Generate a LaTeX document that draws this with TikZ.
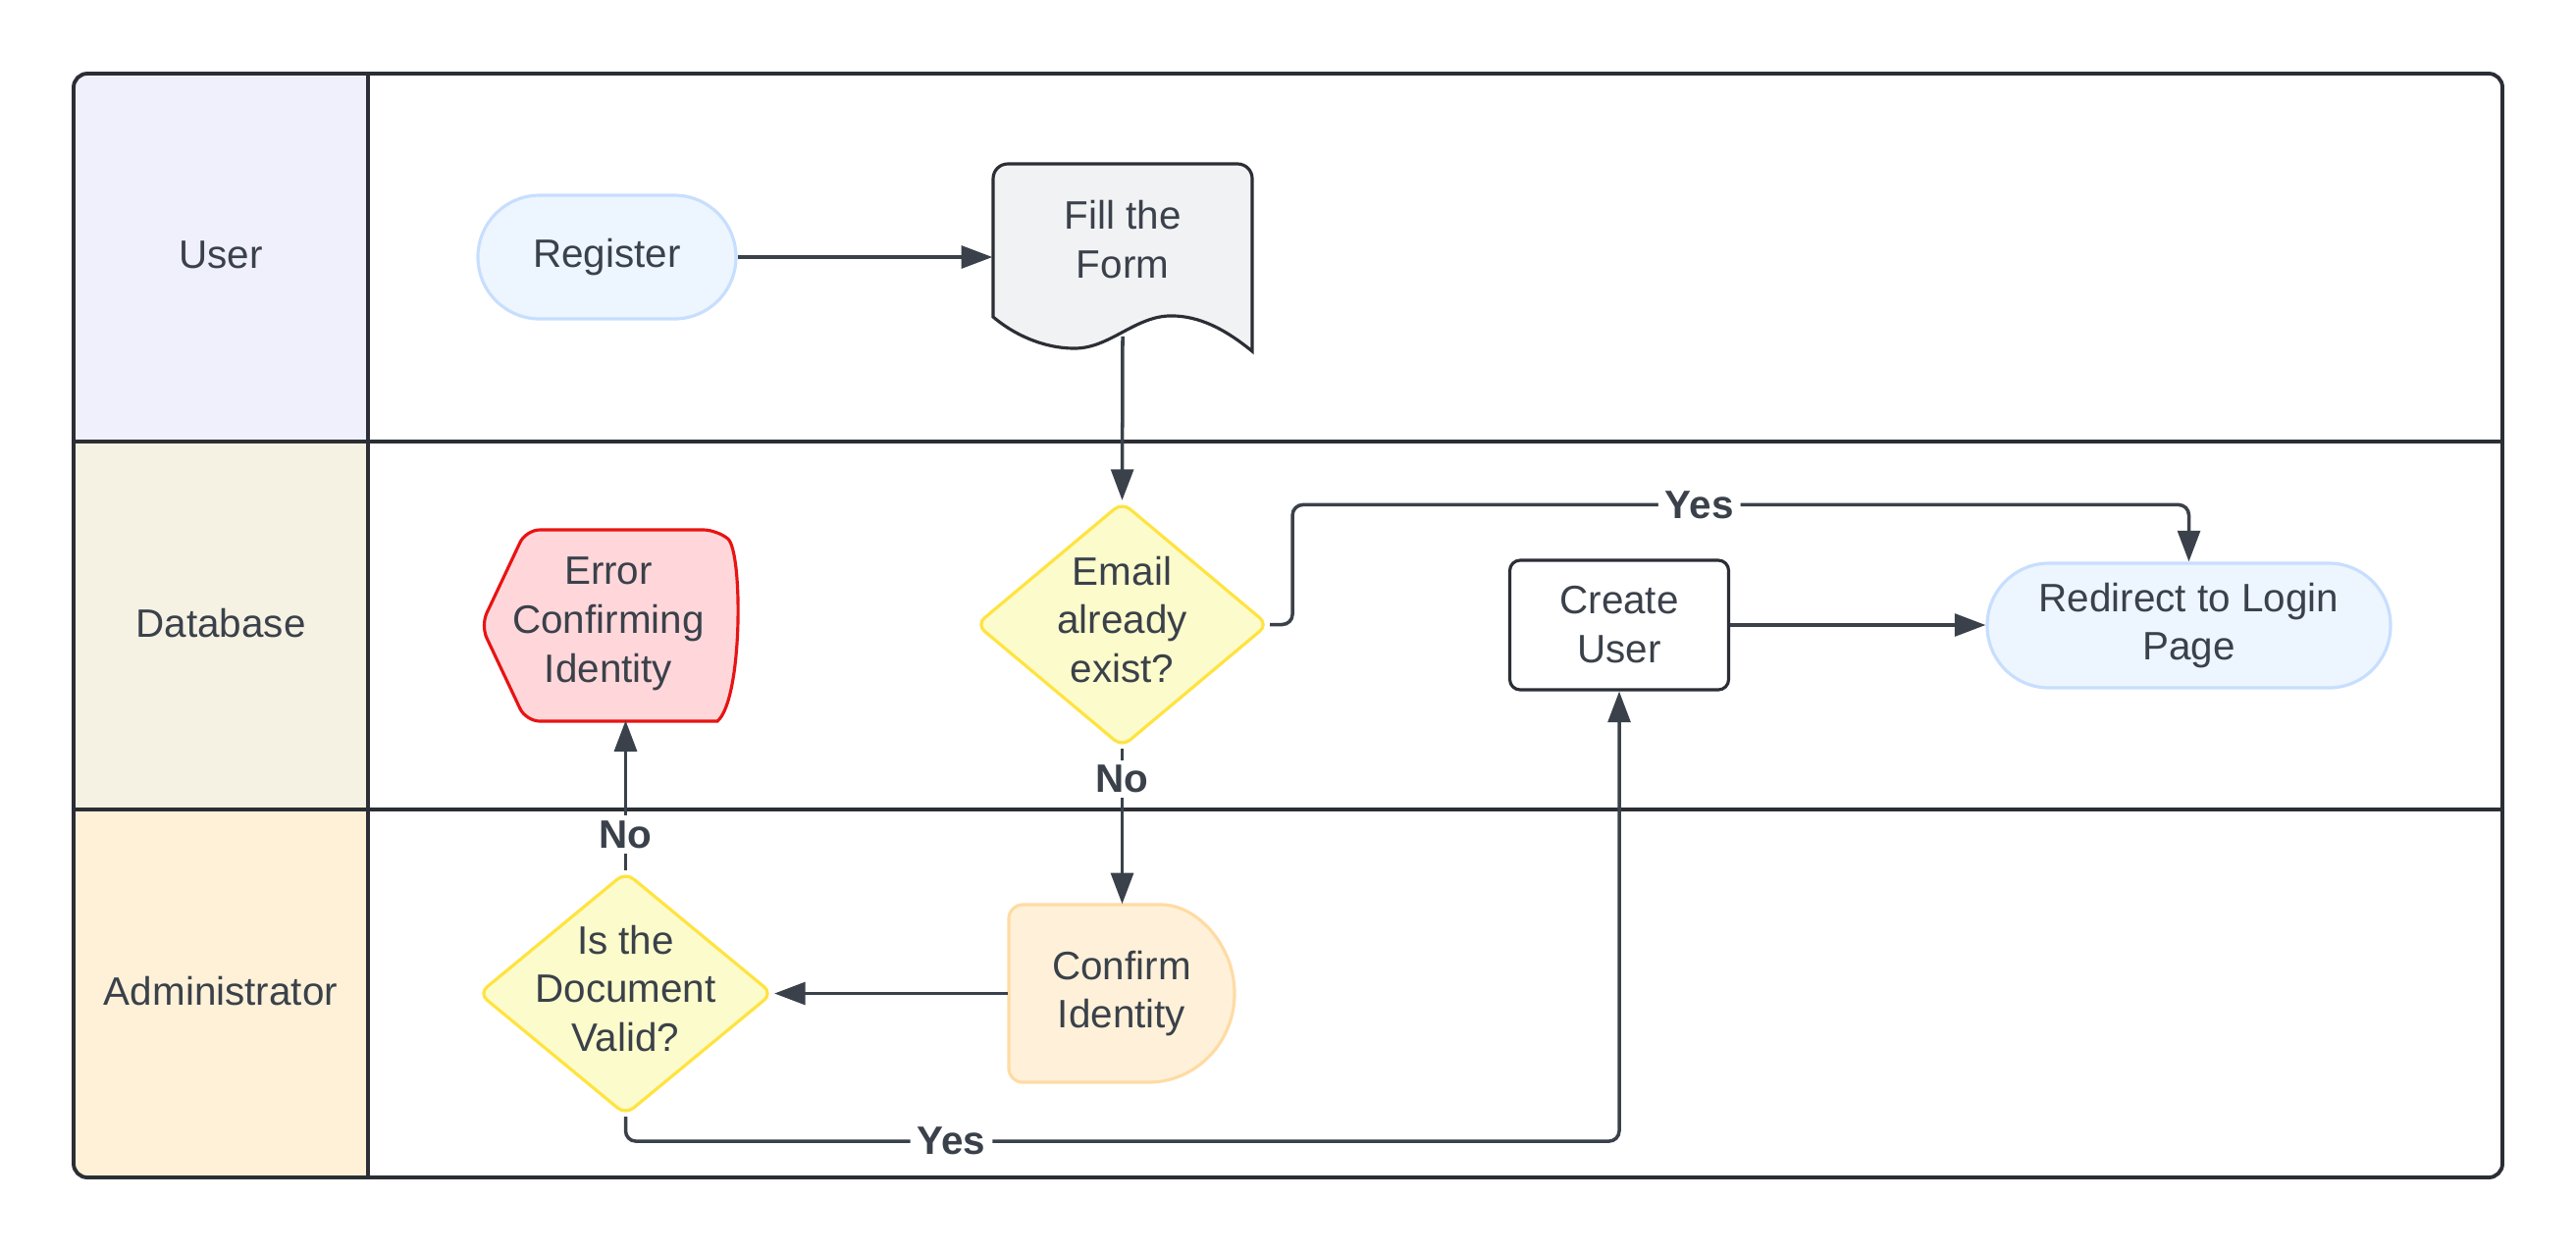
\documentclass[tikz,border=0pt]{standalone}
\usepackage{fontspec}
\setmainfont{Liberation Sans}
\usepackage{tikz}
\usetikzlibrary{arrows.meta,shapes.geometric}

\definecolor{ink}{HTML}{3A414A}
\definecolor{frame}{HTML}{2B2E34}
\definecolor{userlane}{HTML}{F0F0FC}
\definecolor{dblane}{HTML}{F5F2E3}
\definecolor{adminlane}{HTML}{FEF1D8}
\definecolor{termfill}{HTML}{EDF5FF}
\definecolor{termline}{HTML}{C7DEFE}
\definecolor{formfill}{HTML}{F1F2F4}
\definecolor{decfill}{HTML}{FCFBCB}
\definecolor{decline}{HTML}{FFE340}
\definecolor{errfill}{HTML}{FFD7DA}
\definecolor{errline}{HTML}{E81313}
\definecolor{delayfill}{HTML}{FFF1D9}
\definecolor{delayline}{HTML}{FFDBA3}

\begin{document}
\begin{tikzpicture}[font=\fontsize{11.5}{14.2}\selectfont,text=ink,
	flow/.style={draw=ink,line width=1pt,-{Triangle[length=9pt,width=6.5pt]}},
	terminal/.style={draw=termline,fill=termfill,line width=0.9pt,rounded corners=0.63cm,minimum height=1.26cm,align=center},
	decision/.style={diamond,draw=decline,fill=decfill,line width=0.9pt,rounded corners=3pt,inner sep=0pt},
	answer/.style={fill=white,inner xsep=2pt,inner ysep=1.5pt,font=\fontsize{11.5}{14.2}\selectfont\bfseries}]
				\useasboundingbox (0,0) rectangle (26.25,-12.75);
				% lane headers
				\begin{scope}
				\clip[rounded corners=4pt] (0.75,-0.75) rectangle (25.5,-12);
				\fill[userlane] (0.75,-0.75) rectangle (3.75,-4.5);
				\fill[dblane] (0.75,-4.5) rectangle (3.75,-8.25);
				\fill[adminlane] (0.75,-8.25) rectangle (3.75,-12);
				\end{scope}
				\draw[frame,line width=1.1pt,rounded corners=4pt] (0.75,-0.75) rectangle (25.5,-12);
				\draw[frame,line width=1.1pt] (3.75,-0.75) -- (3.75,-12);
				\draw[frame,line width=1pt] (0.75,-4.5) -- (25.5,-4.5);
				\draw[frame,line width=1pt] (0.75,-8.25) -- (25.5,-8.25);
				\node (user) at (2.25,-2.6) {User};
				\node (database) at (2.25,-6.35) {Database};
				\node (admin) at (2.25,-10.1) {Administrator};
				% user lane
				\node[terminal,minimum width=2.63cm] (register) at (6.185,-2.62) {Register};
				\draw[frame,line width=0.9pt,fill=formfill] (10.12,-3.23) -- (10.12,-1.82) arc[start angle=180,end angle=90,radius=0.15] -- (12.61,-1.67) arc[start angle=90,end angle=0,radius=0.15] -- (12.76,-3.58) .. controls (12.42,-3.30) and (12.15,-3.21) .. (11.90,-3.22) .. controls (11.55,-3.24) and (11.30,-3.55) .. (10.95,-3.55) .. controls (10.62,-3.55) and (10.32,-3.40) .. (10.12,-3.23) -- cycle;
				\node[align=center,inner sep=0pt,minimum width=2.64cm,minimum height=1.54cm] (form) at (11.44,-2.44) {Fill the\\Form};
				% database lane
				\draw[errline,line width=0.9pt,fill=errfill,rounded corners=4pt] (4.90,-6.375) -- (5.36,-5.40) -- (7.31,-5.40) [sharp corners] .. controls (7.57,-5.62) and (7.57,-7.13) .. (7.31,-7.35) [rounded corners=4pt] -- (5.36,-7.35) -- cycle;
				\node[align=center,inner sep=0pt,minimum width=2.6cm,minimum height=1.95cm] (error) at (6.20,-6.36) {Error\\Confirming\\Identity};
				\node[decision,minimum width=2.98cm,minimum height=2.5cm,label={[align=center,yshift=0.05cm]center:Email\\already\\exist?}] (email) at (11.435,-6.365) {};
				\node[draw=frame,fill=white,line width=0.9pt,rounded corners=3pt,align=center,minimum width=2.23cm,minimum height=1.32cm] (create) at (16.50,-6.37) {Create\\User};
				\node[terminal,minimum width=4.11cm,minimum height=1.27cm] (redirect) at (22.305,-6.375) {Redirect to Login\\Page};
				% administrator lane
				\draw[delayline,line width=0.9pt,fill=delayfill,rounded corners=4pt] (10.28,-10.125) -- (10.28,-9.22) -- (11.70,-9.22) [sharp corners] arc[start angle=90,end angle=-90,x radius=0.88cm,y radius=0.905cm] [rounded corners=4pt] -- (10.28,-11.03) -- cycle;
				\node[align=center,inner sep=0pt,minimum width=2.3cm,minimum height=1.81cm] (confirm) at (11.43,-10.125) {Confirm\\Identity};
				\node[decision,minimum width=3.0cm,minimum height=2.48cm,label={[align=center,yshift=0.05cm]center:Is the\\Document\\Valid?}] (valid) at (6.375,-10.125) {};
				% connectors
				\draw[flow] (register.east) -- (register.east -| form.west);
				\draw[flow] ([yshift=-6pt]form.south) -- (email.north);
				\draw[flow,rounded corners=3pt] (email.east) -- ++(0.23,0) |- node[answer,pos=0.727] {Yes} ([yshift=0.58cm]redirect.north) -- (redirect.north);
				\draw[flow] (create.east) -- (create.east -| redirect.west);
				\draw[flow] (email.south) -- node[answer,pos=0.196] {No} (email.south |- confirm.north);
				\draw[flow] (confirm.west) -- (confirm.west -| valid.east);
				\draw[flow] (valid.north) -- node[answer,pos=0.238] {No} (valid.north |- error.south);
				\draw[flow,rounded corners=3pt] (valid.south) -- ++(0,-0.25) -| node[answer,pos=0.164] {Yes} (create.south);
\end{tikzpicture}
\end{document}
